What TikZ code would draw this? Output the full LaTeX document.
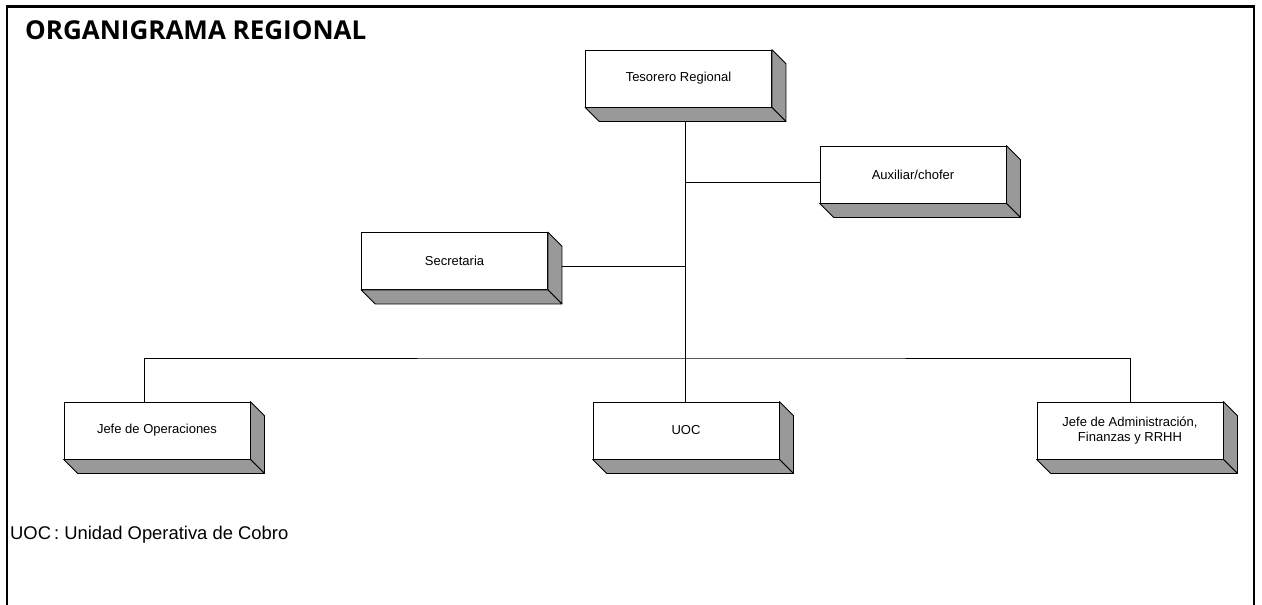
\documentclass[tikz,border=0pt]{standalone}
\usepackage{fontspec}
\setmainfont{Liberation Sans}
\newfontfamily\titlefont{Open Sans}
\newcommand\tdbox[4]{%
  \node[box] (#1) at (#2,#3) {#4};
  \draw[shade] (#1.north east) -- ([shift={(14,14)}]#1.north east) -- ([shift={(14,14)}]#1.south east) -- (#1.south east) -- cycle;
  \draw[shade] (#1.south west) -- (#1.south east) -- ([shift={(14,14)}]#1.south east) -- ([shift={(14,14)}]#1.south west) -- cycle;
}
\begin{document}
\begin{tikzpicture}[x=1pt,y=-1pt,
  box/.style={draw, fill=white, line width=0.8pt, minimum width=186pt, minimum height=57pt, inner sep=0pt, align=center, font=\fontsize{13}{15.5}\selectfont},
  shade/.style={draw, fill=black!40, line width=0.8pt, line join=round},
  link/.style={draw, line width=0.7pt},
  frame/.style={line width=2.5pt}]
\useasboundingbox (0,0) rectangle (1262,605);
\coordinate (fbl) at (7,605);
\coordinate (ftl) at (7,6.5);
\coordinate (ftr) at (1254,6.5);
\coordinate (fbr) at (1254,605);
\draw[frame] (fbl) -- (ftl) -- (ftr) -- (fbr);

\node[anchor=base west, inner sep=0pt, font=\titlefont\bfseries\fontsize{26}{30}\selectfont] (title) at (25,39) {ORGANIGRAMA REGIONAL};

\tdbox{tes}{678.5}{78.5}{Tesorero Regional}
\tdbox{aux}{913}{174.5}{Auxiliar/chofer}
\tdbox{sec}{454.5}{261}{Secretaria}
\tdbox{jop}{157}{430.5}{Jefe de Operaciones}
\tdbox{uoc}{686}{430.5}{UOC}
\tdbox{jad}{1130}{430.5}{Jefe de Administración,\\Finanzas y RRHH}

\coordinate (bus) at (685,358);
\coordinate (ttop) at ([shift={(6.5,14)}]tes.south);
\draw[link] (ttop) -- (uoc.north -| bus);
\coordinate (aw) at ([shift={(0,7.5)}]aux.west);
\draw[link] (aw) -- (aw -| bus);
\coordinate (se) at ([shift={(14,5)}]sec.east);
\draw[link] (se) -- (se -| bus);
\coordinate (jopc) at ([shift={(-13,0)}]jop.north);
\draw[link] (jopc) |- (bus) -| (jad.north);

\node[anchor=base west, inner sep=0pt, font=\fontsize{18.4}{21}\selectfont] (note) at (10,539.5) {UOC\kern3pt: Unidad Operativa de Cobro};
\end{tikzpicture}
\end{document}
